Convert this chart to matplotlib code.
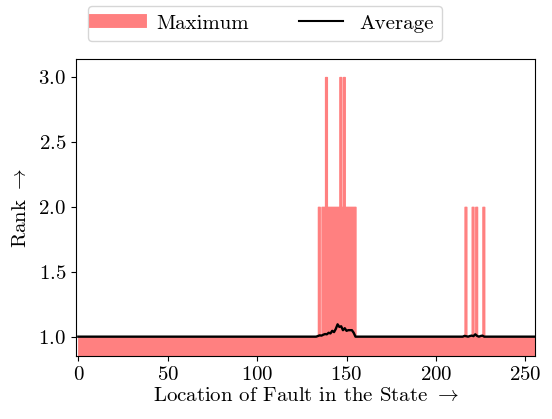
import matplotlib
matplotlib.use("Agg")
import matplotlib.pyplot as plt
from matplotlib.lines import Line2D
import numpy as np

plt.rcParams['font.family'] = ['cmr10', 'DejaVu Serif']
plt.rcParams['mathtext.fontset'] = 'cm'
plt.rcParams['axes.formatter.use_mathtext'] = True
plt.rcParams['font.size'] = 15

# ---- data ----
positions = list(range(256))

max_rank = ([1] * 134
            + [2, 1]
            + [2, 2, 3, 2, 2, 2, 2, 2, 2, 2, 3, 2, 3, 2, 2, 2, 2, 2, 2]
            + [1] * 61
            + [2, 1, 1, 1, 2, 1, 2, 1, 1, 1, 2]
            + [1] * 29)

avg_rank = ([1.0] * 133
            + [1.0, 1.005, 1.01, 1.008, 1.015, 1.02, 1.018, 1.03, 1.025, 1.045,
               1.035, 1.06, 1.095, 1.075, 1.08, 1.05, 1.065, 1.045, 1.05, 1.05,
               1.05, 1.03, 1.0]
            + [1.0] * 59
            + [1.0, 1.006, 1.003, 1.0, 1.005, 1.008, 1.004, 1.018, 1.006, 1.0,
               1.005, 1.008, 1.0]
            + [1.0] * 28)

fill_color = '#ff8080'

fig = plt.figure(figsize=(5.52, 4.19), dpi=100)
ax = fig.add_axes([76 / 552, 1 - 356 / 419, (535 - 76) / 552, (356 - 59) / 419])

ax.fill_between(positions, 0, max_rank, step='post', facecolor=fill_color,
                edgecolor=fill_color, linewidth=1.0)
ax.plot(positions, avg_rank, color='black', linewidth=1.7)

ax.set_xlim(-1.3, 255.4)
ax.set_ylim(0.851, 3.139)
ax.set_xticks([0, 50, 100, 150, 200, 250])
ax.set_yticks([1.0, 1.5, 2.0, 2.5, 3.0])

ax.set_xlabel(r"Location of Fault in the State $\rightarrow$", labelpad=2)
ax.set_ylabel(r"Rank $\rightarrow$", labelpad=6)

handles = [Line2D([0], [0], color=fill_color, linewidth=10, label='Maximum'),
           Line2D([0], [0], color='black', linewidth=1.5, label='Average')]
fig.legend(handles=handles, loc='lower left', ncol=2, handlelength=2.1,
           columnspacing=2.4,
           bbox_to_anchor=(87.7 / 552, 1 - 41 / 419), borderaxespad=0,
           bbox_transform=fig.transFigure)

fig.savefig('out.png', dpi=100)
